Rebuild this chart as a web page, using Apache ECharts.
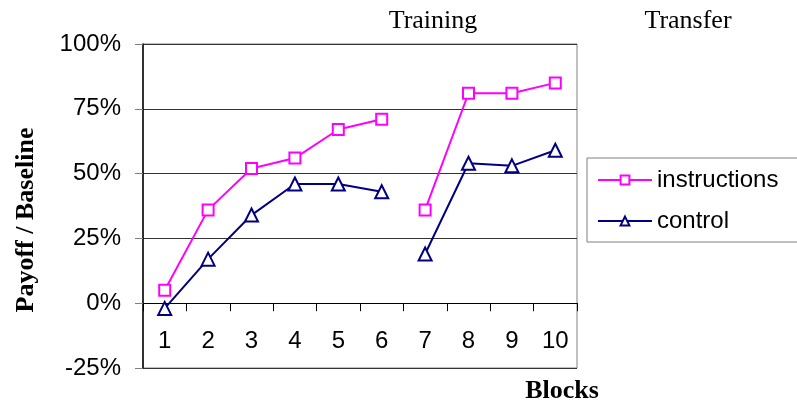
<!DOCTYPE html>
<html>
<head>
<meta charset="utf-8">
<script src="https://cdn.jsdelivr.net/npm/echarts@6/dist/echarts.min.js"></script>
<style>
  html, body { margin: 0; padding: 0; background: #fff; }
  #chart { width: 797px; height: 412px; }
</style>
</head>
<body>
<div id="chart"></div>
<script>
// Payoff relative to baseline, per block, for the two groups
const blocks = ['1', '2', '3', '4', '5', '6', '7', '8', '9', '10'];
const instructions = [5, 36, 52, 56, 67, 71, 36, 81, 81, 85];
const control = [-2, 17, 34, 46, 46, 43, 19, 54, 53, 59];
const trainingBlockCount = 6;   // blocks 1-6 are training, 7-10 transfer
const yTicks = [-25, 0, 25, 50, 75, 100];

// Split a series into its training and transfer phases so the line breaks between them
function phase(values, isTraining) {
  return values.map((v, i) => (i < trainingBlockCount) === isTraining ? v : null);
}

const serif = '"Liberation Serif", "Times New Roman", serif';
const sans = '"Liberation Sans", Arial, sans-serif';

const gridTop = 44, gridBottom = 44, chartHeight = 412;
const plotHeight = chartHeight - gridTop - gridBottom;
const yMin = yTicks[0], yMax = yTicks[yTicks.length - 1];
// lift the category axis from the bottom edge up to the 0% level
const zeroOffset = -plotHeight * (0 - yMin) / (yMax - yMin);

function lineSeries(name, values, isTraining, color, symbol, size) {
  return {
    name: name,
    type: 'line',
    data: phase(values, isTraining),
    connectNulls: false,
    symbol: symbol,
    symbolSize: size,
    lineStyle: { color: color, width: 2 },
    itemStyle: { color: color, borderColor: color, borderWidth: 2 },
    emphasis: { disabled: true },
    animation: false
  };
}

const chart = echarts.init(document.getElementById('chart'));
chart.setOption({
  animation: false,
  grid: {
    left: 143, right: 220, top: gridTop, bottom: gridBottom,
    outerBoundsMode: 'none',
    containLabel: false,
    show: true, borderColor: '#808080', borderWidth: 1
  },
  xAxis: {
    type: 'category',
    data: blocks,
    boundaryGap: true,
    position: 'bottom',
    offset: zeroOffset,
    axisLine: { onZero: false, lineStyle: { color: '#000', width: 1 } },
    axisTick: { show: true, alignWithLabel: false, length: 8, lineStyle: { color: '#000' } },
    axisLabel: { fontFamily: sans, fontSize: 24, color: '#000', margin: 26 },
    splitLine: { show: false }
  },
  yAxis: {
    type: 'value',
    min: yMin,
    max: yMax,
    interval: 25,
    axisLine: { show: true, lineStyle: { color: '#000', width: 1.5 } },
    axisTick: { show: true, length: 8, lineStyle: { color: '#808080' } },
    axisLabel: { fontFamily: sans, fontSize: 24, color: '#000', margin: 22, formatter: '{value}%' },
    splitLine: { show: true, lineStyle: { color: '#333', width: 1 } }
  },
  legend: {
    data: ['instructions', 'control'],
    orient: 'vertical',
    left: 587,
    top: 158,
    padding: [10, 40, 9, 10],
    itemGap: 17,
    itemWidth: 54,
    itemHeight: 11,
    borderColor: '#808080',
    borderWidth: 1,
    backgroundColor: '#fff',
    textStyle: { fontFamily: sans, fontSize: 24, color: '#000' },
    selectedMode: false
  },
  series: [
    lineSeries('instructions', instructions, true, '#ff00ff', 'emptyRect', 11),
    lineSeries('instructions', instructions, false, '#ff00ff', 'emptyRect', 11),
    lineSeries('control', control, true, '#000080', 'emptyTriangle', 13),
    lineSeries('control', control, false, '#000080', 'emptyTriangle', 13)
  ],
  graphic: [
    {
      type: 'text', x: 433, y: 21,
      style: { text: 'Training', font: '26px ' + serif, fill: '#000', align: 'center', verticalAlign: 'middle' }
    },
    {
      type: 'text', x: 688, y: 21,
      style: { text: 'Transfer', font: '26px ' + serif, fill: '#000', align: 'center', verticalAlign: 'middle' }
    },
    {
      type: 'text', x: 562, y: 391,
      style: { text: 'Blocks', font: 'bold 26px ' + serif, fill: '#000', align: 'center', verticalAlign: 'middle' }
    },
    {
      type: 'text', x: 26, y: 220, rotation: Math.PI / 2,
      style: { text: 'Payoff / Baseline', font: 'bold 26px ' + serif, fill: '#000', align: 'center', verticalAlign: 'middle' }
    }
  ]
});
</script>
</body>
</html>
